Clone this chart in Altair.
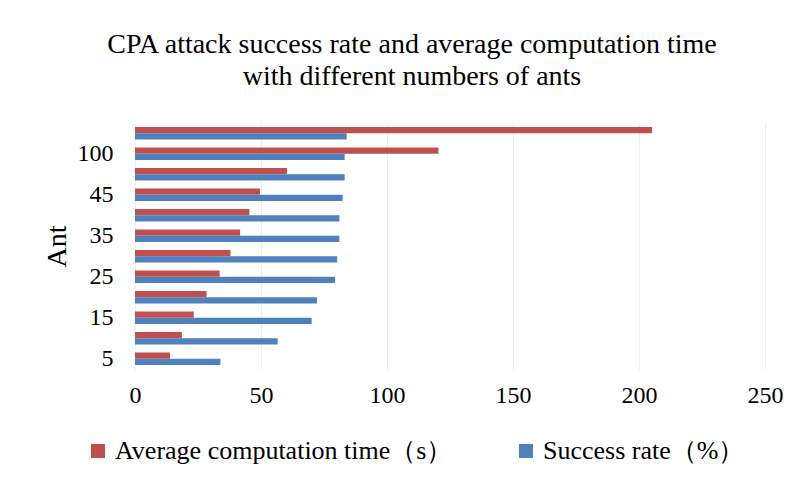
import altair as alt
import pandas as pd

ants = ["5", "10", "15", "20", "25", "30", "35", "40", "45", "50", "100", "200"]
time_s = [13.9, 18.6, 23.3, 28.4, 33.6, 37.9, 41.7, 45.4, 49.6, 60.3, 120.4, 205.2]
success = [33.9, 56.6, 70.1, 72.2, 79.4, 80.2, 81.1, 81.1, 82.4, 83.2, 83.2, 84.0]
series = ["Average computation time（s）", "Success rate（%）"]
shown_ticks = ["5", "15", "25", "35", "45", "100"]
colors = ["#C0504D", "#4F81BD"]

rows = []
for a, t, s in zip(ants, time_s, success):
    rows.append({"Ant": a, "Series": series[0], "Value": t})
    rows.append({"Ant": a, "Series": series[1], "Value": s})
df = pd.DataFrame(rows)

FONT = "Liberation Serif"

chart = alt.Chart(df).mark_bar().encode(
    y=alt.Y("Ant:N", sort=list(reversed(ants)),
            scale=alt.Scale(paddingInner=0.4, paddingOuter=0.2),
            axis=alt.Axis(values=shown_ticks, title="Ant", domain=False, ticks=False,
                          labelFontSize=24, labelPadding=22, titleFontSize=28,
                          titleFontWeight="normal", titlePadding=6, grid=False)),
    yOffset=alt.YOffset("Series:N", sort=series, scale=alt.Scale(paddingInner=0)),
    x=alt.X("Value:Q", scale=alt.Scale(domain=[0, 250]),
            axis=alt.Axis(values=[0, 50, 100, 150, 200, 250], title=None, domain=False,
                          ticks=False, labelFontSize=24, labelPadding=14, labelFlush=False,
                          grid=True, gridColor="#EDEDED")),
    color=alt.Color("Series:N", sort=series,
                    scale=alt.Scale(domain=series, range=colors),
                    legend=alt.Legend(title=None, orient="none", legendX=-50, legendY=315,
                                      direction="horizontal", symbolType="square",
                                      symbolSize=196, labelFontSize=26, columnPadding=60,
                                      labelOffset=4, labelLimit=0, symbolStrokeWidth=0)),
).properties(
    width=630, height=246,
    title=alt.TitleParams(
        text=["CPA attack success rate and average computation time",
              "with different numbers of ants"],
        fontSize=28, fontWeight="normal", anchor="middle", dx=-38, offset=32,
        lineHeight=32, color="#000000"),
    autosize=alt.AutoSizeParams(type="none"),
    padding={"left": 135, "top": 123, "right": 42, "bottom": 119},
).configure(font=FONT).configure_view(stroke=None).configure_axis(
    labelColor="#000000", titleColor="#000000", labelFont=FONT, titleFont=FONT
).configure_legend(labelFont=FONT, labelColor="#000000").configure_title(font=FONT)

chart.save("out.html", embed_options={"renderer": "svg", "actions": False})
